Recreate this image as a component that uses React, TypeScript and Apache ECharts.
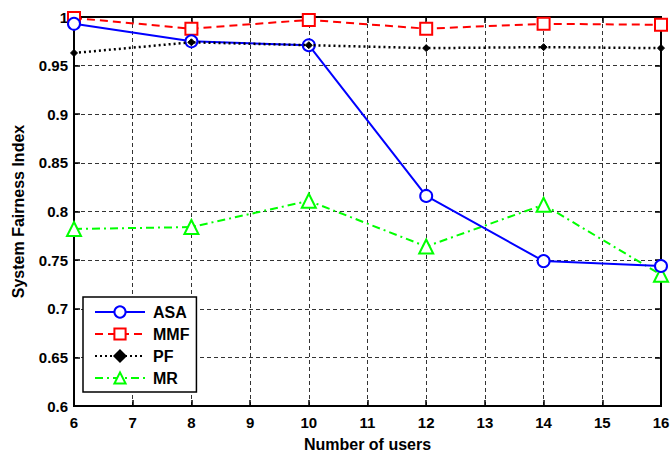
import React, { useEffect, useRef } from "react";
import * as echarts from "echarts";

const users = [6, 8, 10, 12, 14, 16];
const asa = [0.993, 0.975, 0.971, 0.816, 0.749, 0.744];
const mmf = [0.999, 0.988, 0.997, 0.988, 0.993, 0.992];
const pf = [0.963, 0.974, 0.971, 0.968, 0.969, 0.968];
const mr = [0.782, 0.784, 0.811, 0.764, 0.807, 0.735];

const pair = (ys: number[]) => users.map((x, i) => [x, ys[i]]);

export default function App() {
  const ref = useRef<HTMLDivElement>(null);
  useEffect(() => {
    const chart = echarts.init(ref.current!, null, { renderer: "svg" });
    const font = "Liberation Sans, Arial, sans-serif";
    const dashedGrid = { show: true, lineStyle: { color: "#333", type: [4, 3], width: 1 } };
    chart.setOption({
      animation: false,
      backgroundColor: "#fff",
      textStyle: { fontFamily: font },
      grid: {
        left: 74,
        right: 9,
        top: 17,
        bottom: 45,
        show: true,
        borderColor: "#000",
        borderWidth: 2,
        containLabel: false,
        outerBoundsMode: "none",
      },
      legend: {
        left: 83,
        top: 297,
        orient: "vertical",
        backgroundColor: "#fff",
        borderColor: "#000",
        borderWidth: 1.5,
        borderRadius: 0,
        padding: [7, 7, 6, 11],
        itemGap: 6,
        itemWidth: 50,
        itemHeight: 14,
        textStyle: { fontFamily: font, fontWeight: "bold", fontSize: 16, color: "#000", padding: [0, 0, 0, 3] },
        data: ["ASA", "MMF", "PF", "MR"],
      },
      xAxis: [
        {
          type: "value",
          min: 6,
          max: 16,
          interval: 1,
          name: "Number of users",
          nameLocation: "middle",
          nameGap: 30,
          nameTextStyle: { fontFamily: font, fontWeight: "bold", fontSize: 16, color: "#000" },
          axisLine: { show: true, lineStyle: { color: "#000", width: 2 } },
          axisTick: { show: true, inside: true, length: 6, lineStyle: { color: "#000", width: 1.5 } },
          axisLabel: { fontFamily: font, fontWeight: "bold", fontSize: 15, color: "#000", margin: 9 },
          splitLine: dashedGrid,
        },
        {
          type: "value",
          position: "top",
          min: 6,
          max: 16,
          interval: 1,
          axisLine: { show: true, lineStyle: { color: "#000", width: 2 } },
          axisTick: { show: true, inside: true, length: 6, lineStyle: { color: "#000", width: 1.5 } },
          axisLabel: { show: false },
          splitLine: { show: false },
        },
      ],
      yAxis: [
        {
          type: "value",
          min: 0.6,
          max: 1,
          interval: 0.05,
          name: "System Fairness Index",
          nameLocation: "middle",
          nameGap: 48,
          nameTextStyle: { fontFamily: font, fontWeight: "bold", fontSize: 16, color: "#000" },
          axisLine: { show: true, lineStyle: { color: "#000", width: 2 } },
          axisTick: { show: true, inside: true, length: 6, lineStyle: { color: "#000", width: 1.5 } },
          axisLabel: {
            fontFamily: font,
            fontWeight: "bold",
            fontSize: 15,
            color: "#000",
            margin: 6,
            formatter: (v: number) => String(parseFloat(v.toFixed(2))),
          },
          splitLine: dashedGrid,
        },
        {
          type: "value",
          position: "right",
          min: 0.6,
          max: 1,
          interval: 0.05,
          axisLine: { show: true, lineStyle: { color: "#000", width: 2 } },
          axisTick: { show: true, inside: true, length: 6, lineStyle: { color: "#000", width: 1.5 } },
          axisLabel: { show: false },
          splitLine: { show: false },
        },
      ],
      series: [
        {
          name: "ASA",
          type: "line",
          data: pair(asa),
          symbol: "circle",
          symbolSize: 12,
          itemStyle: { color: "#fff", borderColor: "#0000ff", borderWidth: 2 },
          lineStyle: { color: "#0000ff", width: 2, type: "solid" },
          z: 4,
        },
        {
          name: "MMF",
          type: "line",
          data: pair(mmf),
          symbol: "rect",
          symbolSize: 12,
          itemStyle: { color: "#fff", borderColor: "#ff0000", borderWidth: 2 },
          lineStyle: { color: "#ff0000", width: 2, type: [8, 5] },
          z: 3,
        },
        {
          name: "PF",
          type: "line",
          data: pair(pf),
          symbol: "diamond",
          symbolSize: 7,
          itemStyle: { color: "#000", borderColor: "#000", borderWidth: 1 },
          lineStyle: { color: "#000", width: 2.5, type: [2, 3] },
          z: 5,
        },
        {
          name: "MR",
          type: "line",
          data: pair(mr),
          symbol: "triangle",
          symbolSize: 14,
          itemStyle: { color: "#fff", borderColor: "#00ff00", borderWidth: 2 },
          lineStyle: { color: "#00ff00", width: 2, type: [8, 4, 2, 4] },
          z: 2,
        },
      ],
    });
    return () => chart.dispose();
  }, []);
  return <div ref={ref} style={{ width: 670, height: 451, position: "fixed", left: 0, top: 0 }} />;
}
